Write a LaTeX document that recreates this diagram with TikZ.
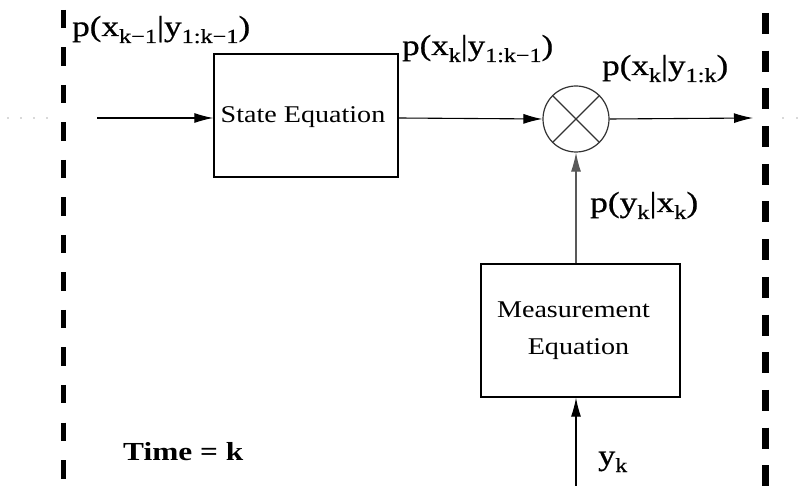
\documentclass[tikz,border=0pt]{standalone}
\usepackage{fontspec}
\usepackage{graphicx}
\setmainfont{Liberation Serif}
\newfontfamily\labfont[FakeBold=0.6]{Liberation Serif}
\newfontfamily\boxfont[FakeStretch=1.17]{Liberation Serif}
\usetikzlibrary{arrows.meta}
\newcommand\sbs[1]{\raisebox{-7pt}{\fontsize{20}{20}\selectfont #1}}
\newcommand\fitw[2]{\resizebox{#1}{\height}{#2}}
\newcommand\biglab{\labfont\fontsize{29}{29}\selectfont}
\begin{document}
\begin{tikzpicture}[x=1pt,y=-1pt,
  blockbox/.style={draw, line width=1.3pt, inner sep=0pt},
  flow/.style={line width=1.1pt, -{Latex[length=19pt,width=10pt]}},
  lab/.style={inner sep=0pt, anchor=base west, font=\biglab},
  boxtext/.style={font=\boxfont\fontsize{24}{24}\selectfont, align=center, inner sep=0pt},
  timeline/.style={line width=5pt}]
\useasboundingbox (0,0) rectangle (801,486);
% time boundaries
\coordinate (lt) at (63.5,10);
\coordinate (lb) at (63.5,486);
\coordinate (rt) at (765.5,13);
\coordinate (rb) at (765.5,486);
\draw[timeline, dash pattern=on 18.5pt off 19pt] (lt) -- (lb);
\draw[timeline, line width=7pt, dash pattern=on 21pt off 16.7pt] (rt) -- (rb);
% dots
\foreach \x [count=\i] in {8,21,34,47} \node[circle, fill=gray!60, inner sep=0pt, minimum size=1.6pt] (ld\i) at (\x,118) {};
\foreach \x [count=\i] in {783,797} \node[circle, fill=gray!60, inner sep=0pt, minimum size=1.6pt] (rd\i) at (\x,118) {};
% blocks
\node[blockbox, minimum width=184pt, minimum height=123pt] (state) at (306,115.5) {};
\node[boxtext] (statetxt) at (303,117) {State Equation};
\node[blockbox, minimum width=199pt, minimum height=133pt] (meas) at (580.5,330.5) {};
\node[boxtext, anchor=base] (meastxt1) at (573.5,318) {Measurement};
\node[boxtext, anchor=base] (meastxt2) at (578.5,355) {Equation};
% multiplier
\node[draw=black!80, circle, line width=1.2pt, minimum size=66pt, inner sep=0pt] (mult) at (576,119) {};
\draw[black!80, line width=1.1pt] (mult.north west) -- (mult.south east);
\draw[black!80, line width=1.1pt] (mult.north east) -- (mult.south west);
% connectors
\coordinate (in) at (97,118);
\coordinate (out) at (753,118);
\coordinate (ybot) at (576,486);
\draw[flow] (in) -- (state.west |- in);
\draw[flow] (state.east |- in) -- (mult.west);
\draw[flow] (mult.east) -- (out);
\draw[flow, draw=black!65] (meas.north -| mult) -- (mult.south);
\draw[flow] (ybot) -- (meas.south -| ybot);
% labels
\node[lab] (l1) at (72,36) {\fitw{178pt}{p(x\sbs{k−1}|y\sbs{1:k−1})}};
\node[lab] (l2) at (402,55) {\fitw{151pt}{p(x\sbs{k}|y\sbs{1:k−1})}};
\node[lab] (l3) at (602,75) {\fitw{126pt}{p(x\sbs{k}|y\sbs{1:k})}};
\node[lab] (l4) at (590,212) {\fitw{108pt}{p(y\sbs{k}|x\sbs{k})}};
\node[lab] (l5) at (598,465) {\fitw{29pt}{y\sbs{k}}};
\node[inner sep=0pt, anchor=base west, font=\bfseries\fontsize{26}{26}\selectfont] (time) at (123,460) {\fitw{120pt}{Time = k}};
\end{tikzpicture}
\end{document}
